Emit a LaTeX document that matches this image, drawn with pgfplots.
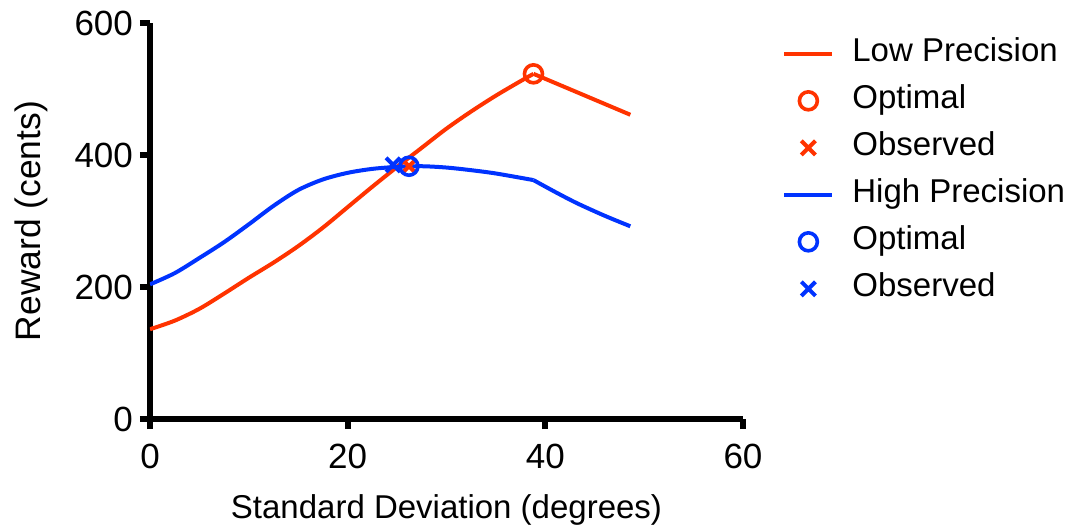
\documentclass[border=0pt]{standalone}
\usepackage{fontspec}
\setmainfont{Liberation Sans}
\usepackage{pgfplots}
\pgfplotsset{compat=1.18}
\definecolor{lowred}{RGB}{255,51,0}
\definecolor{highblue}{RGB}{0,51,255}
\pgfplotsset{
  lineleg/.style={legend image code/.code={\draw[##1,line width=2pt] (0pt,0pt) -- (24pt,0pt);}},
  markleg/.style={legend image code/.code={\draw[mark repeat=2,mark phase=2,##1] plot coordinates {(0pt,0pt) (12pt,0pt) (24pt,0pt)};}},
}
\begin{document}
\begin{tikzpicture}
\begin{axis}[
    at={(0,0)}, anchor=south west,
    scale only axis,
    width=296.5pt, height=198pt,
    xmin=0, xmax=60, ymin=0, ymax=600,
    xtick={0,20,40,60}, ytick={0,200,400,600},
    axis lines=left,
    axis line style={-, line width=3pt},
    every outer x axis line/.append style={line width=3pt},
    every outer y axis line/.append style={line width=3pt},
    tick align=outside,
    major tick length=5pt,
    every tick/.append style={line width=3pt, black},
    /pgf/number format/assume math mode=true,
    tick label style={font=\fontsize{17.5}{20}\selectfont},
    xticklabel style={yshift=-4pt},
    xlabel={Standard Deviation (degrees)},
    ylabel={Reward (cents)},
    xlabel style={font=\fontsize{16.5}{20}\selectfont,
        at={(axis description cs:0.5,-0.23)}, anchor=center},
    ylabel style={font=\fontsize{17.7}{21}\selectfont,
        at={(axis description cs:-0.2,0.5)}, anchor=center, rotate=0},
    legend cell align=left,
    legend style={draw=none, fill=none, at={(1,1)}, anchor=north west,
        xshift=19.5pt, yshift=-7.2pt, inner sep=0pt, row sep=7.5pt,
        font=\fontsize{16.5}{19}\selectfont,
        nodes={inner sep=0pt, text height=12pt, text depth=4pt},
        /tikz/every odd column/.append style={column sep=9pt}},
]

% Low precision
\addplot[lowred, line width=2pt, smooth, lineleg] coordinates {
    (0,136) (2.5,149) (5,167) (7.5,190) (10,214) (12.5,237) (15,262)
    (17.5,290) (20,321) (22.5,352) (25,382) (27.5,411) (30,440)
    (32.5,466) (35,490) (37.5,512) (38.8,523)
};
\addlegendentry{Low Precision}
\addplot[lowred, line width=2pt, forget plot] coordinates {
    (38.8,523) (43.7,492) (48.6,461)
};
\addplot[only marks, markleg, lowred, mark=o, mark size=4.5pt, mark options={line width=1.8pt}] coordinates {(38.8,523)};
\addlegendentry{Optimal}
\addplot[only marks, markleg, lowred, mark=x, mark size=5pt, mark options={line width=2pt}] coordinates {(26.2,383)};
\addlegendentry{Observed}

% High precision
\addplot[highblue, line width=2pt, smooth, lineleg] coordinates {
    (0,204) (2.5,221) (5,244) (7.5,268) (10,295) (12.5,323) (15,347)
    (17.5,363) (20,373) (22.5,379) (25,382) (27.5,383) (30,381)
    (32.5,377) (35,372) (38.8,362)
};
\addlegendentry{High Precision}
\addplot[highblue, line width=2pt, smooth, forget plot] coordinates {
    (38.8,362) (41,344) (43.2,327) (46,308) (48.6,292)
};
\addplot[only marks, markleg, highblue, mark=o, mark size=4.5pt, mark options={line width=1.8pt}] coordinates {(26.2,383)};
\addlegendentry{Optimal}
\addplot[only marks, markleg, highblue, mark=x, mark size=5pt, mark options={line width=2pt}] coordinates {(24.6,385)};
\addlegendentry{Observed}

\end{axis}
\pgfresetboundingbox
\useasboundingbox (-75pt,-53pt) rectangle (459.5pt,209.5pt);
\end{tikzpicture}
\end{document}
